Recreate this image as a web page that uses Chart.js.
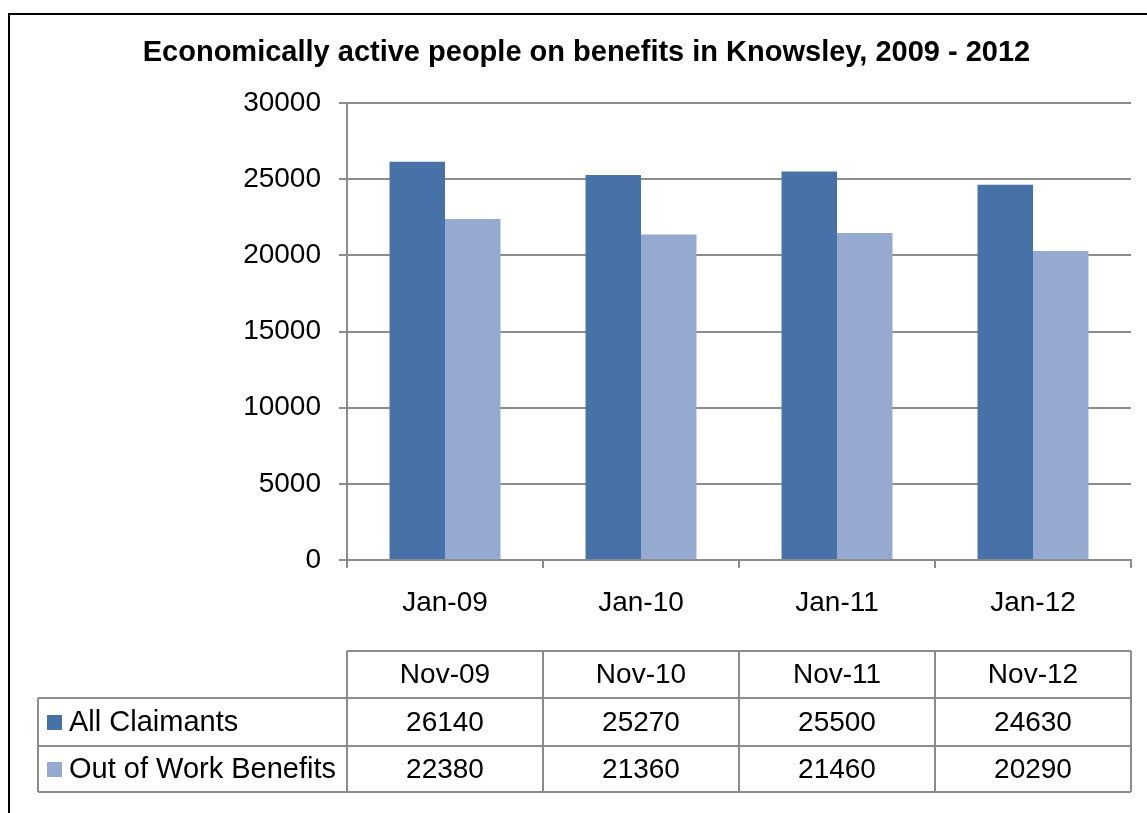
<!DOCTYPE html>
<html>
<head>
<meta charset="utf-8">
<script src="https://cdn.jsdelivr.net/npm/chart.js@4.4.1/dist/chart.umd.min.js"></script>
<style>
  html, body { margin: 0; padding: 0; background: #ffffff; }
  #wrap { position: relative; width: 1147px; height: 813px; }
</style>
</head>
<body>
<div id="wrap"><canvas id="c" width="1147" height="813"></canvas></div>
<script>
const titleText = 'Economically active people on benefits in Knowsley, 2009 - 2012';
const categories = ['Jan-09', 'Jan-10', 'Jan-11', 'Jan-12'];
const tableHeaders = ['Nov-09', 'Nov-10', 'Nov-11', 'Nov-12'];
const seriesNames = ['All Claimants', 'Out of Work Benefits'];
const allClaimants = [26140, 25270, 25500, 24630];
const outOfWork = [22380, 21360, 21460, 20290];
const yTicks = [0, 5000, 10000, 15000, 20000, 25000, 30000];

const FONT = "'Liberation Sans', Arial, sans-serif";
const GRID = '#8c8c8c';

const frameAndTable = {
  id: 'frameAndTable',
  beforeDraw(chart) {
    const ctx = chart.ctx;
    ctx.save();
    ctx.fillStyle = '#ffffff';
    ctx.fillRect(0, 0, chart.width, chart.height);
    ctx.strokeStyle = '#000000';
    ctx.lineWidth = 2;
    ctx.beginPath();
    ctx.moveTo(9, chart.height);
    ctx.lineTo(9, 14);
    ctx.lineTo(chart.width, 14);
    ctx.stroke();
    ctx.restore();
  },
  afterDraw(chart) {
    const ctx = chart.ctx;
    const xs = chart.scales.x;
    const n = chart.data.labels.length;
    const area = chart.chartArea;
    const cw = (area.right - area.left) / n;
    const bounds = [];
    for (let i = 0; i <= n; i++) bounds.push(area.left + i * cw);
    const rowsY = [651, 698, 746, 792];
    const tableLeft = 38;
    ctx.save();
    ctx.strokeStyle = GRID;
    ctx.lineWidth = 2;
    ctx.beginPath();
    ctx.moveTo(bounds[0], rowsY[0]); ctx.lineTo(bounds[n], rowsY[0]);
    for (let r = 1; r < rowsY.length; r++) {
      ctx.moveTo(tableLeft, rowsY[r]); ctx.lineTo(bounds[n], rowsY[r]);
    }
    for (let i = 0; i <= n; i++) {
      ctx.moveTo(bounds[i], rowsY[0]); ctx.lineTo(bounds[i], rowsY[3]);
    }
    ctx.moveTo(tableLeft, rowsY[1]); ctx.lineTo(tableLeft, rowsY[3]);
    ctx.stroke();

    ctx.fillStyle = '#000000';
    ctx.font = '28px ' + FONT;
    ctx.textAlign = 'center';
    ctx.textBaseline = 'middle';
    for (let i = 0; i < n; i++) {
      const cx = xs.getPixelForValue(i);
      ctx.fillText(tableHeaders[i], cx, (rowsY[0] + rowsY[1]) / 2 + 1);
    }
    chart.data.datasets.forEach((ds, d) => {
      const cy = (rowsY[d + 1] + rowsY[d + 2]) / 2 + 1;
      for (let i = 0; i < n; i++) {
        ctx.fillStyle = '#000000';
        ctx.textAlign = 'center';
        ctx.fillText(String(ds.data[i]), xs.getPixelForValue(i), cy);
      }
      ctx.fillStyle = ds.backgroundColor;
      ctx.fillRect(47, cy - 8, 15, 15);
      ctx.fillStyle = '#000000';
      ctx.textAlign = 'left';
      ctx.font = '29px ' + FONT;
      ctx.fillText(ds.label, 69, cy);
      ctx.font = '28px ' + FONT;
    });
    ctx.restore();
  }
};

new Chart(document.getElementById('c'), {
  type: 'bar',
  data: {
    labels: categories,
    datasets: [
      { label: seriesNames[0], data: allClaimants, backgroundColor: '#4672A7' },
      { label: seriesNames[1], data: outOfWork, backgroundColor: '#95A9D1' }
    ]
  },
  options: {
    responsive: false,
    animation: false,
    devicePixelRatio: 1,
    layout: { padding: { left: 42, right: 16, top: 0, bottom: 193 } },
    datasets: { bar: { barPercentage: 1.0, categoryPercentage: 0.566 } },
    plugins: {
      legend: { display: false },
      tooltip: { enabled: false },
      title: {
        display: true,
        text: titleText,
        color: '#000000',
        font: { family: FONT, size: 29, weight: 'bold', lineHeight: 1.2 },
        padding: { top: 36, bottom: 32.2 }
      }
    },
    scales: {
      x: {
        offset: true,
        grid: { display: true, drawOnChartArea: false, drawTicks: true, tickLength: 8, offset: true, color: GRID, lineWidth: 2 },
        border: { display: true, color: GRID, width: 2 },
        ticks: { color: '#000000', font: { family: FONT, size: 28 }, padding: 18 },
        afterFit(scale) { scale.height = 60; }
      },
      y: {
        min: 0,
        max: 30000,
        afterBuildTicks(scale) { scale.ticks = yTicks.map(v => ({ value: v })); },
        grid: { color: GRID, lineWidth: 2, drawTicks: true, tickLength: 8 },
        border: { display: true, color: GRID, width: 2 },
        ticks: { color: '#000000', font: { family: FONT, size: 28 }, padding: 18, callback: (v) => String(v) },
        afterFit(scale) { scale.width = 305; }
      }
    }
  },
  plugins: [frameAndTable]
});
</script>
</body>
</html>
